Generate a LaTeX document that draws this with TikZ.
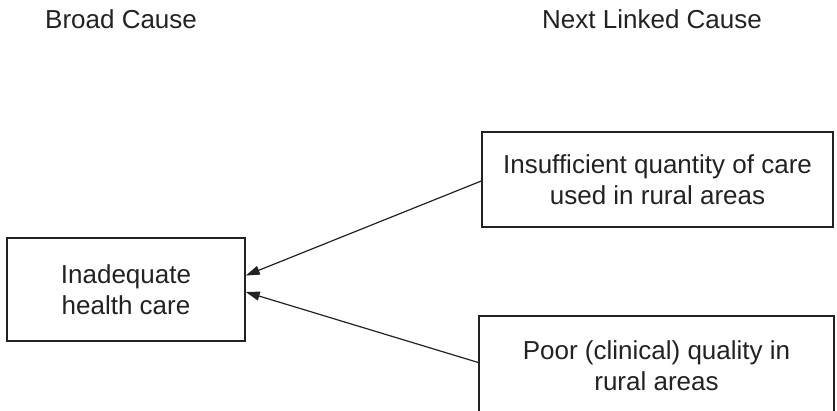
\documentclass[tikz,border=0pt]{standalone}
\usepackage{fontspec}
\setmainfont{Liberation Sans}
\usetikzlibrary{arrows.meta}
\definecolor{ink}{HTML}{222222}
\tikzset{
  causebox/.style={draw=ink, line width=1.5pt, text=ink, align=center, inner sep=0pt,
    font=\fontsize{26}{31}\selectfont},
  header/.style={text=ink, font=\fontsize{26}{31}\selectfont, inner sep=0pt, anchor=base west},
  linkarrow/.style={draw=ink, line width=1.2pt, -{Triangle[length=14pt,width=9pt]}}
}
\begin{document}
\begin{tikzpicture}[x=1pt,y=1pt]
\useasboundingbox (0,0) rectangle (837,-410);
\clip (0,0) rectangle (837,-410);
\node[header] (hb) at (45,-28) {Broad Cause};
\node[header] (hn) at (542,-28) {Next Linked Cause};
\node[causebox, minimum width=238pt, minimum height=103pt] (left) at (126,-289.5) {Inadequate\\health care};
\node[causebox, minimum width=351pt, minimum height=95pt] (top) at (657.5,-179.5) {Insufficient quantity of care\\used in rural areas};
\node[causebox, minimum width=355pt, minimum height=99pt] (bot) at (656.5,-365.5) {Poor (clinical) quality in\\rural areas};
\draw[linkarrow] ([yshift=-1.5pt]top.west) -- ([yshift=14pt]left.east);
\draw[linkarrow] ([yshift=3pt]bot.west) -- ([yshift=-2.5pt]left.east);
\end{tikzpicture}
\end{document}
